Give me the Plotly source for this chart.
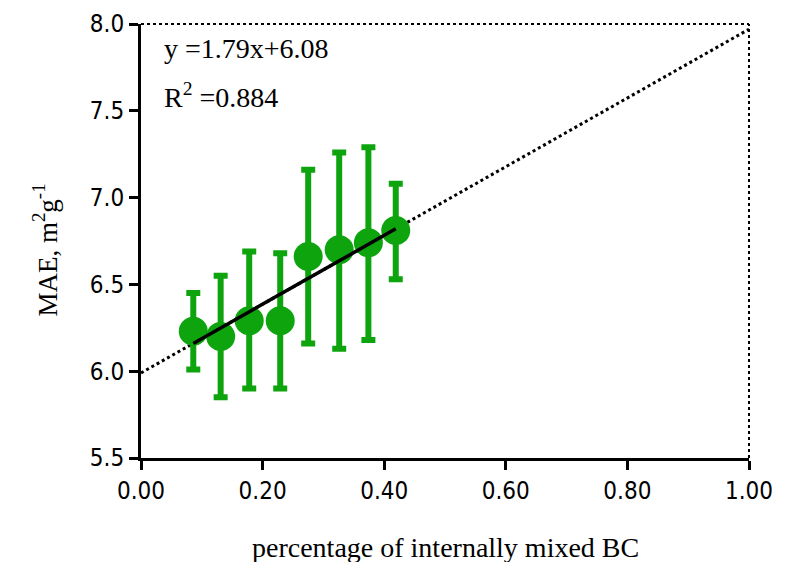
import plotly.graph_objects as go

# data
x_frac = [0.086, 0.131, 0.178, 0.229, 0.275, 0.326, 0.374, 0.419]
mae = [6.23, 6.20, 6.29, 6.29, 6.66, 6.70, 6.74, 6.81]
err_plus = [0.22, 0.35, 0.40, 0.39, 0.50, 0.56, 0.55, 0.27]
err_minus = [0.22, 0.35, 0.39, 0.39, 0.50, 0.57, 0.56, 0.28]

fit_solid_x = [0.086, 0.419]
fit_solid_y = [6.16, 6.82]
fit_dot_x = [0.0, 1.0]
fit_dot_y = [5.99, 7.97]

x_ticks = [0.0, 0.2, 0.4, 0.6, 0.8, 1.0]
y_ticks = [5.5, 6.0, 6.5, 7.0, 7.5, 8.0]

x_title = "percentage of internally mixed BC"
y_title = "MAE, m<sup>2</sup>g<sup>-1</sup>"

green = "rgb(14,164,14)"
serif = "Liberation Serif"
sans = "DejaVu Sans Condensed, DejaVu Sans"

fig = go.Figure()
fig.add_trace(go.Scatter(x=fit_dot_x, y=fit_dot_y, mode="lines",
                         line=dict(color="black", width=3, dash="dot"),
                         showlegend=False, hoverinfo="skip"))
fig.add_trace(go.Scatter(x=x_frac, y=mae, mode="markers",
                         marker=dict(size=29, color=green),
                         error_y=dict(type="data", array=err_plus, arrayminus=err_minus,
                                      color=green, thickness=6, width=7),
                         showlegend=False))
fig.add_trace(go.Scatter(x=fit_solid_x, y=fit_solid_y, mode="lines",
                         line=dict(color="black", width=3.5),
                         showlegend=False))

fig.add_annotation(x=0.035, y=7.86, xref="x", yref="y", text="y =1.79x+6.08",
                   showarrow=False, xanchor="left", yanchor="middle",
                   font=dict(family=serif, size=28, color="black"))
fig.add_annotation(x=0.035, y=7.59, xref="x", yref="y", text="R<sup>2</sup> =0.884",
                   showarrow=False, xanchor="left", yanchor="middle",
                   font=dict(family=serif, size=28, color="black"))

# axis titles
fig.add_annotation(x=0.5, y=-0.207, xref="paper", yref="paper", text=x_title,
                   showarrow=False, xanchor="center", yanchor="middle",
                   font=dict(family=serif, size=28, color="black"))
fig.add_annotation(x=-0.158, y=0.48, xref="paper", yref="paper", text=y_title,
                   showarrow=False, xanchor="center", yanchor="middle", textangle=-90,
                   font=dict(family=serif, size=27, color="black"))

# dotted top and right frame
fig.add_shape(type="line", xref="paper", yref="paper", x0=0, x1=1, y0=1, y1=1,
              line=dict(color="black", width=2, dash="dot"))
fig.add_shape(type="line", xref="paper", yref="paper", x0=1, x1=1, y0=0, y1=1,
              line=dict(color="black", width=2, dash="dot"))

fig.update_xaxes(range=[0, 1], tickvals=x_ticks, tickformat=".2f", automargin=False,
                 showgrid=False, zeroline=False, showline=True, linecolor="black",
                 linewidth=3, ticks="outside", ticklen=9, tickwidth=3, tickcolor="black",
                 tickfont=dict(family=sans, size=24, color="black"))
fig.update_yaxes(range=[5.5, 8.0], tickvals=y_ticks, tickformat=".1f", automargin=False,
                 showgrid=False, zeroline=False, showline=True, linecolor="black",
                 linewidth=3, ticks="outside", ticklen=9, tickwidth=3, tickcolor="black",
                 tickfont=dict(family=sans, size=24, color="black"))

fig.update_layout(width=790, height=562, plot_bgcolor="white", paper_bgcolor="white",
                  margin=dict(l=141, r=41, t=24, b=104))

fig.write_html("out.html")
